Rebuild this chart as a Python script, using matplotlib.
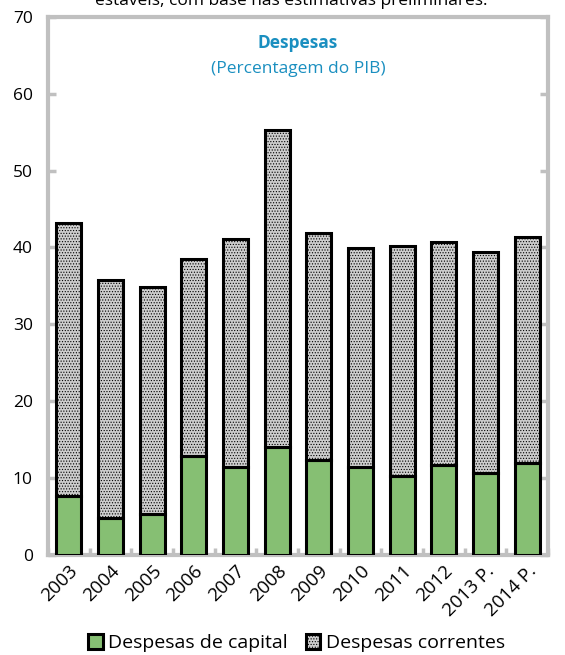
import matplotlib.pyplot as plt
import numpy as np

# data
anos = ['2003', '2004', '2005', '2006', '2007', '2008', '2009', '2010',
        '2011', '2012', '2013 P.', '2014 P.']
capital = [7.7, 4.8, 5.3, 12.9, 11.4, 14.0, 12.4, 11.4, 10.3, 11.7, 10.7, 12.0]
total = [43.2, 35.8, 34.9, 38.5, 41.1, 55.3, 41.9, 39.9, 40.2, 40.7, 39.4, 41.4]
correntes = [t - c for t, c in zip(total, capital)]
yticks = [0, 10, 20, 30, 40, 50, 60, 70]

plt.rcParams['font.family'] = ['Open Sans', 'DejaVu Sans']
plt.rcParams['hatch.color'] = '#b0b0b0'
plt.rcParams['hatch.linewidth'] = 0.5

verde = '#86bf73'
cinza = '#cdcdcd'
azul = '#1a8fc0'
moldura = '#c0c0c0'
fs = 12.5

fig = plt.figure(figsize=(5.65, 6.55), dpi=100)
ax = fig.add_axes([0.085, 0.153, 0.885, 0.821])

x = np.arange(len(anos))
ax.bar(x, capital, width=0.6, color=verde, edgecolor='black', linewidth=2.2,
       label='Despesas de capital', zorder=3)
ax.bar(x, correntes, bottom=capital, width=0.6, color=cinza, edgecolor='black',
       linewidth=2.2, hatch='......', label='Despesas correntes', zorder=3)

ax.set_xlim(-0.5, len(anos) - 0.5)
ax.set_ylim(0, 70)
ax.set_yticks(yticks)
ax.set_yticklabels([str(v) for v in yticks], fontsize=fs)
ax.tick_params(axis='y', direction='in', length=6, width=2.5, color=moldura,
               right=True, pad=11)
ax.set_xticks(x)
ax.set_xticklabels(anos, rotation=45, ha='right', rotation_mode='anchor',
                   fontsize=13.5)
ax.tick_params(axis='x', length=0, pad=5)
ax.set_xticks(np.arange(-0.5, len(anos), 1), minor=True)
ax.tick_params(axis='x', which='minor', direction='in', length=5, width=2.5,
               color=moldura)

for s in ax.spines.values():
    s.set_color(moldura)
    s.set_linewidth(3)

ax.text(0.5, 0.952, 'Despesas', transform=ax.transAxes, ha='center',
        va='center', fontsize=fs, fontweight='bold', color=azul)
ax.text(0.5, 0.903, '(Percentagem do PIB)', transform=ax.transAxes, ha='center',
        va='center', fontsize=fs, color=azul)

fig.text(0.515, 0.993, 'estáveis, com base nas estimativas preliminares.',
         ha='center', va='baseline', fontsize=fs)

leg = fig.legend(loc='center', bbox_to_anchor=(0.525, 0.018), ncol=2,
                 frameon=False, fontsize=14, handlelength=0.75, handleheight=0.75,
                 handletextpad=0.3, columnspacing=0.9, borderaxespad=0)

fig.savefig('out.png', dpi=100)
